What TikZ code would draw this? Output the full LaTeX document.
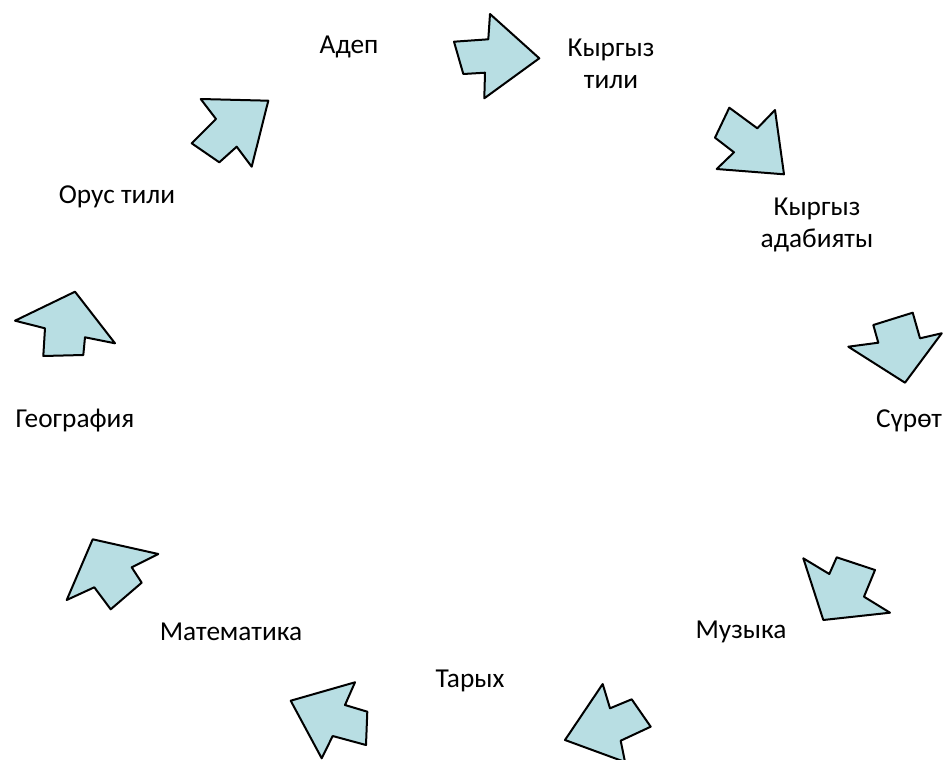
\documentclass[tikz,border=0pt]{standalone}
\usepackage{fontspec}
\setmainfont{Carlito}
\definecolor{arrowfill}{RGB}{184,222,227}
\tikzset{
  blockarrow/.style={draw=black, fill=arrowfill, line width=1.5pt, line join=round},
  lbl/.style={font=\fontsize{20.5}{24}\selectfont, align=center, inner sep=0pt}
}
\begin{document}
\begin{tikzpicture}[x=0.75pt,y=-0.75pt]
\useasboundingbox (0,0) rectangle (943,760);
% arrows
\draw[blockarrow] (454,41.7) -- (488.3,39.3) -- (490,14) -- (539.3,58.3) -- (484.3,98.3) -- (485,72.7) -- (463.3,74) -- cycle;
\draw[blockarrow] (729.3,107.7) -- (757.3,128.3) -- (775,110) -- (784,174.3) -- (716.7,169) -- (734,152.3) -- (715,137.7) -- cycle;
\draw[blockarrow] (873.3,325) -- (912.7,312.7) -- (920,338.3) -- (941.7,333.3) -- (905,382.7) -- (848.3,346.7) -- (878.3,342.7) -- cycle;
\draw[blockarrow] (803.3,558.3) -- (829.3,574) -- (836.7,557.3) -- (875,570) -- (864,596.7) -- (890,612.7) -- (823.3,620) -- cycle;
\draw[blockarrow] (602.7,684) -- (610,708.3) -- (631.7,699.3) -- (650.7,726.7) -- (620.7,740.7) -- (625,762) -- (565,740) -- cycle;
\draw[blockarrow] (355,682.3) -- (345,705) -- (367.3,711.7) -- (366,745) -- (332.7,736) -- (321.7,758.3) -- (290.7,700.7) -- cycle;
\draw[blockarrow] (92.7,539.3) -- (158.3,554) -- (131.7,567.3) -- (141.7,582.7) -- (110.7,609.3) -- (94.3,587.3) -- (66.7,600) -- cycle;
\draw[blockarrow] (15,320.7) -- (75,291.7) -- (115,343.3) -- (85,337.3) -- (83.3,355) -- (43.3,356) -- (45,328.3) -- cycle;
\draw[blockarrow] (200.7,99) -- (268.3,100.7) -- (251.7,166.7) -- (236.7,146.7) -- (219.3,162.3) -- (191.7,143.3) -- (216,119) -- cycle;
% labels
\node[lbl] (adep) at (349,47) {Адеп};
\node[lbl] (kyrtil) at (611,64) {Кыргыз\\тили};
\node[lbl] (kyrad) at (817,225) {Кыргыз\\адабияты};
\node[lbl] (suret) at (909,421) {Сүрөт};
\node[lbl] (muz) at (741,632) {Музыка};
\node[lbl] (taryh) at (470,681) {Тарых};
\node[lbl] (mat) at (231,632) {Математика};
\node[lbl] (geo) at (75,421) {География};
\node[lbl] (orus) at (117,197) {Орус тили};
\end{tikzpicture}
\end{document}
